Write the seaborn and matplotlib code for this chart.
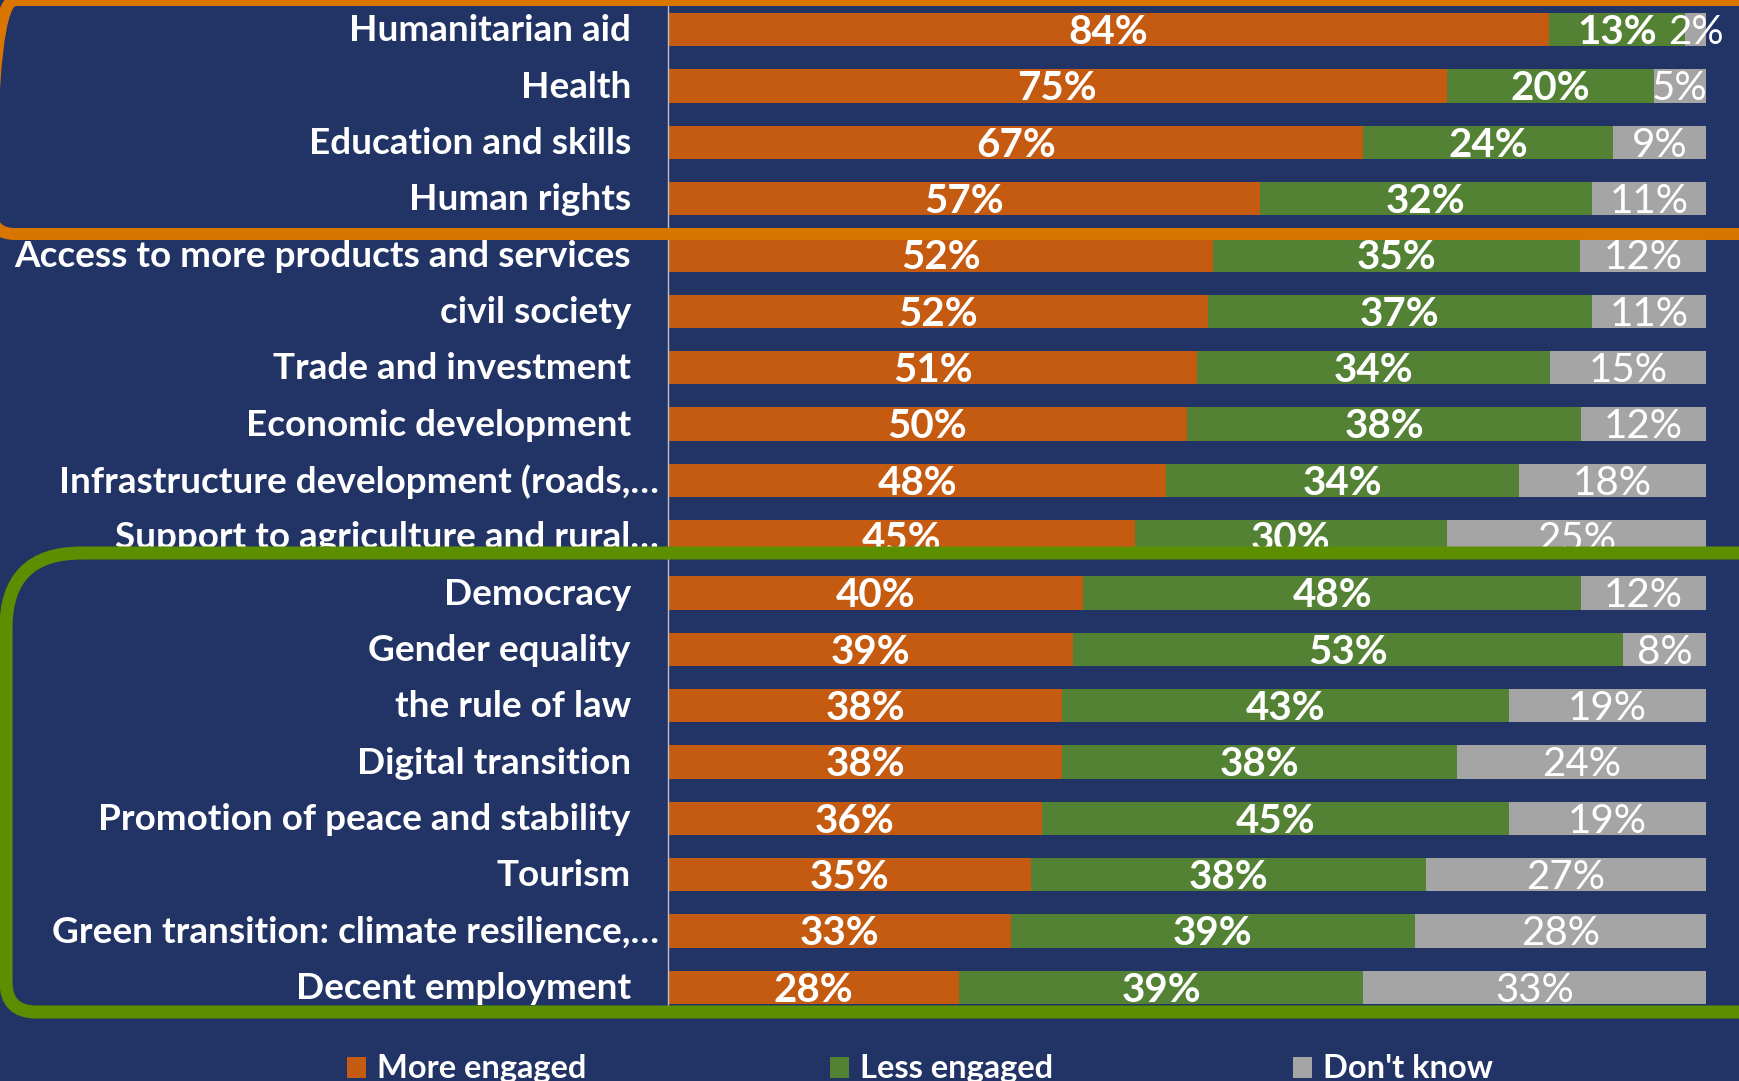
import matplotlib
matplotlib.use("Agg")
import matplotlib.pyplot as plt
from matplotlib.path import Path
from matplotlib.patches import PathPatch, Rectangle
from matplotlib.transforms import ScaledTranslation
import numpy as np
import pandas as pd
import seaborn as sns

# 데이터
topics = [
    "Humanitarian aid", "Health", "Education and skills", "Human rights",
    "Access to more products and services", "civil society",
    "Trade and investment", "Economic development",
    "Infrastructure development (roads,…", "Support to agriculture and rural…",
    "Democracy", "Gender equality", "the rule of law", "Digital transition",
    "Promotion of peace and stability", "Tourism",
    "Green transition: climate resilience,…", "Decent employment",
]
more_engaged = [84, 75, 67, 57, 52, 52, 51, 50, 48, 45, 40, 39, 38, 38, 36, 35, 33, 28]
less_engaged = [13, 20, 24, 32, 35, 37, 34, 38, 34, 30, 48, 53, 43, 38, 45, 38, 39, 39]
dont_know = [2, 5, 9, 11, 12, 11, 15, 12, 18, 25, 12, 8, 19, 24, 19, 27, 28, 33]
series_names = ["More engaged", "Less engaged", "Don't know"]

BG = "#223466"
C_MORE = "#C55A11"
C_LESS = "#548235"
C_DK = "#A5A5A5"
ORANGE_LINE = "#D97600"
GREEN_LINE = "#5B8F00"

W, H = 1739, 1081

sns.set_theme(style="white")
plt.rcParams["font.family"] = ["Lato", "DejaVu Sans"]

df = pd.DataFrame({"topic": topics, "more": more_engaged,
                   "less": less_engaged, "dk": dont_know})
total = df[["more", "less", "dk"]].sum(axis=1)
# 100% 누적 막대처럼 합계 기준으로 정규화
df["s_more"] = df["more"] / total * 100
df["s_less"] = df["less"] / total * 100
df["s_dk"] = df["dk"] / total * 100
df["cum_less"] = df["s_more"] + df["s_less"]
df["cum_dk"] = df["cum_less"] + df["s_dk"]

fig = plt.figure(figsize=(W / 100, H / 100), dpi=100, facecolor=BG)
ax = fig.add_axes([668 / W, 1 - 1015.5 / H, (1706 - 668) / W, (1015.5 - 1.5) / H])
ax.set_facecolor(BG)

bar_w = 0.59
for col, color in [("cum_dk", C_DK), ("cum_less", C_LESS), ("s_more", C_MORE)]:
    sns.barplot(data=df, x=col, y="topic", orient="h", color=color,
                saturation=1, width=bar_w, ax=ax, linewidth=0)

ax.set_xlim(0, 100)
ax.set_ylim(len(topics) - 0.5, -0.5)
ax.set_xlabel("")
ax.set_ylabel("")
ax.set_xticks([])
ax.set_yticks([])
for side in ["top", "right", "bottom"]:
    ax.spines[side].set_visible(False)
ax.spines["left"].set_color("#BFBFBF")
ax.spines["left"].set_linewidth(1.0)

# 값 레이블
PCT_SIZE = 29
for i, row in df.iterrows():
    ax.text(row["s_more"] / 2, i + 0.05, f"{row['more']}%", ha="center", va="center",
            color="white", fontsize=PCT_SIZE, fontweight="bold")
    ax.text(row["s_more"] + row["s_less"] / 2, i + 0.05, f"{row['less']}%", ha="center",
            va="center", color="white", fontsize=PCT_SIZE, fontweight="bold")
    ax.text(row["cum_less"] + row["s_dk"] / 2, i + 0.05, f"{row['dk']}%", ha="center",
            va="center", color="white", fontsize=PCT_SIZE)

# 범주 레이블
LABEL_SIZE = 26.6
ytrans = ax.get_yaxis_transform()
for i, name in enumerate(topics):
    dx = -0.09 if name.endswith("…") else -0.37
    ax.text(0, i + 0.02, name, ha="right", va="center", color="white", fontsize=LABEL_SIZE,
            fontweight="bold",
            transform=ytrans + ScaledTranslation(dx, 0, fig.dpi_scale_trans))


def box_path(x0, x1, top, bottom, r_tl, r_bl):
    """픽셀 좌표(위에서부터)로 왼쪽 모서리만 둥근 사각형 경로를 만든다."""
    X = lambda px: px / 100
    Y = lambda py: (H - py) / 100
    verts = [
        (X(x0 + r_tl), Y(top)), (X(x1), Y(top)), (X(x1), Y(bottom)),
        (X(x0 + r_bl), Y(bottom)), (X(x0), Y(bottom)), (X(x0), Y(bottom - r_bl)),
        (X(x0), Y(top + r_tl)), (X(x0), Y(top)), (X(x0 + r_tl), Y(top)),
    ]
    codes = [Path.MOVETO, Path.LINETO, Path.LINETO, Path.LINETO,
             Path.CURVE3, Path.CURVE3, Path.LINETO, Path.CURVE3, Path.CURVE3]
    return Path(verts, codes)


fig.add_artist(PathPatch(box_path(-9, 1780, 0, 234, 24, 24), transform=fig.dpi_scale_trans,
                         facecolor="none", edgecolor=ORANGE_LINE, linewidth=8.6,
                         zorder=10, clip_on=False))
fig.add_artist(PathPatch(box_path(6, 1780, 553, 1012, 75, 30), transform=fig.dpi_scale_trans,
                         facecolor="none", edgecolor=GREEN_LINE, linewidth=9.4,
                         zorder=10, clip_on=False))

# 범례
for name, color, sx in zip(series_names, [C_MORE, C_LESS, C_DK], [347, 830, 1293]):
    fig.add_artist(Rectangle((sx / 100, 0.03), 0.19, 0.21, transform=fig.dpi_scale_trans,
                             facecolor=color, edgecolor="none"))
    fig.text((sx + 30) / W, 0.03 / (H / 100), name, ha="left", va="baseline",
             color="white", fontsize=23.5, fontweight="bold")

fig.savefig("out.png", dpi=100, facecolor=BG)
